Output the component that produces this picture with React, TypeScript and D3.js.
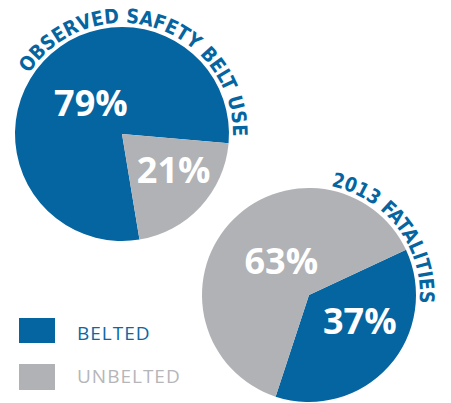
import React from "react";
import * as d3 from "d3";

// ---- data ----
const categories = ["BELTED", "UNBELTED"];
const beltUseValues = [79, 21];
const fatalityValues = [37, 63];
const pieTitles = ["OBSERVED SAFETY BELT USE", "2013 FATALITIES"];

// ---- style / layout ----
const W = 451;
const H = 403;
const COLORS = ["#0565a1", "#b1b2b5"];
const LEGEND_TEXT_COLORS = ["#0b68a3", "#b5b6b9"];
const deg = (d: number) => (d * Math.PI) / 180;

const PIES = [
  {
    values: beltUseValues,
    title: pieTitles[0],
    cx: 122,
    cy: 134,
    r: 107,
    start: 170.6,
    titleFrom: -57,
    titleTo: 91.5,
    titleR: 111,
    labelPolar: [
      [-45, 44],
      [125, 63],
    ],
  },
  {
    values: fatalityValues,
    title: pieTitles[1],
    cx: 309,
    cy: 295,
    r: 107,
    start: 65,
    titleFrom: 11.5,
    titleTo: 94.5,
    titleR: 111,
    labelPolar: [
      [117, 57],
      [-39, 44],
    ],
  },
];

const polar = (cx: number, cy: number, aDeg: number, r: number) => [
  cx + r * Math.sin(deg(aDeg)),
  cy - r * Math.cos(deg(aDeg)),
];

function Pie({ p, idx }: { p: (typeof PIES)[number]; idx: number }) {
  const pie = d3
    .pie<number>()
    .sort(null)
    .value((d) => d)
    .startAngle(deg(p.start))
    .endAngle(deg(p.start) + 2 * Math.PI);
  const arcs = pie(p.values);
  const arc = d3.arc<d3.PieArcDatum<number>>().innerRadius(0).outerRadius(p.r);
  const total = d3.sum(p.values);
  const [x0, y0] = polar(p.cx, p.cy, p.titleFrom, p.titleR);
  const [x1, y1] = polar(p.cx, p.cy, p.titleTo, p.titleR);
  const large = p.titleTo - p.titleFrom > 180 ? 1 : 0;
  const pathId = `title-arc-${idx}`;
  const arcLen = (deg(p.titleTo - p.titleFrom) * p.titleR) | 0;
  const fs = 36;
  return (
    <g>
      <g transform={`translate(${p.cx},${p.cy})`}>
        {arcs.map((a, i) => (
          <path key={i} d={arc(a) || ""} fill={COLORS[i]} />
        ))}
      </g>
      {arcs.map((a, i) => {
        const [ang, rr] = p.labelPolar[i];
        const [lx, ly] = polar(p.cx, p.cy, ang, rr);
        return (
          <text
            key={i}
            x={lx}
            y={ly + fs * 0.357}
            textAnchor="middle"
            fill="#ffffff"
            fontFamily="'Open Sans', sans-serif"
            fontWeight={700}
            fontSize={fs}
          >
            {`${Math.round((a.data / total) * 100)}%`}
          </text>
        );
      })}
      <path
        id={pathId}
        d={`M${x0},${y0} A${p.titleR},${p.titleR} 0 ${large} 1 ${x1},${y1}`}
        fill="none"
      />
      <text
        fill={COLORS[0]}
        fontFamily="'DejaVu Sans', sans-serif"
        fontStretch="condensed"
        fontWeight={700}
        fontSize={20}
      >
        <textPath
          href={`#${pathId}`}
          startOffset="0"
          textLength={arcLen}
          lengthAdjust="spacingAndGlyphs"
        >
          {p.title}
        </textPath>
      </text>
    </g>
  );
}

export default function App() {
  const legendY = [318, 364];
  const legendH = [25, 26];
  const legendBase = [340, 383];
  return (
    <svg
      width={W}
      height={H}
      viewBox={`0 0 ${W} ${H}`}
      style={{ position: "absolute", left: 0, top: 0, background: "#ffffff" }}
    >
      <rect width={W} height={H} fill="#ffffff" />
      {PIES.map((p, i) => (
        <Pie key={i} p={p} idx={i} />
      ))}
      {categories.map((c, i) => (
        <g key={c}>
          <rect x={19} y={legendY[i]} width={36} height={legendH[i]} fill={COLORS[i]} />
          <text
            x={77}
            y={legendBase[i]}
            fill={LEGEND_TEXT_COLORS[i]}
            fontFamily="'Open Sans', sans-serif"
            fontSize={19}
            letterSpacing={1}
          >
            {c}
          </text>
        </g>
      ))}
    </svg>
  );
}
